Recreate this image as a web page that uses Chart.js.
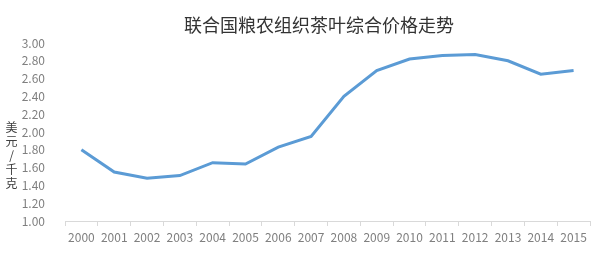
<!DOCTYPE html>
<html>
<head>
<meta charset="utf-8">
<script src="https://cdn.jsdelivr.net/npm/chart.js@4/dist/chart.umd.min.js"></script>
<style>
  html, body { margin: 0; padding: 0; background: #fff; }
  #wrap { position: relative; width: 600px; height: 253px; }
  #title {
    position: absolute; left: 119px; width: 400px; top: 13px;
    text-align: center; white-space: nowrap;
    font: 18px "Noto Sans CJK SC", sans-serif; line-height: 22px;
    color: #333;
  }
  #ytitle {
    position: absolute; left: 4px; top: 121px;
    writing-mode: vertical-rl; text-orientation: upright;
    font: 12px "Noto Sans CJK SC", sans-serif; line-height: 14px;
    color: #404040; letter-spacing: 2px;
  }
</style>
</head>
<body>
<div id="wrap">
  <canvas id="chart" width="600" height="253"></canvas>
  <div id="title"></div>
  <div id="ytitle"></div>
</div>
<script>
// years on the x axis
const years = ["2000", "2001", "2002", "2003", "2004", "2005", "2006", "2007",
  "2008", "2009", "2010", "2011", "2012", "2013", "2014", "2015"];
// FAO composite tea price, USD per kg
const prices = [1.80, 1.55, 1.48, 1.51, 1.655, 1.64, 1.83, 1.95,
  2.40, 2.69, 2.82, 2.86, 2.87, 2.80, 2.65, 2.69];
const chartTitle = "联合国粮农组织茶叶综合价格走势";
const yTitle = "美元/千克";
const yMin = 1.0, yMax = 3.0, yStep = 0.2;

const font = "'Noto Sans CJK SC', 'Noto Sans', sans-serif";

document.getElementById("title").textContent = chartTitle;
document.getElementById("ytitle").textContent = yTitle;

new Chart(document.getElementById("chart"), {
  type: "line",
  data: {
    labels: years,
    datasets: [{
      data: prices,
      borderColor: "#5b9bd5",
      borderWidth: 3,
      pointRadius: 0,
      fill: false,
      tension: 0
    }]
  },
  options: {
    responsive: false,
    animation: false,
    // top padding leaves room for the html title
    layout: { padding: { left: 0, right: 10, top: 43, bottom: 0 } },
    plugins: {
      legend: { display: false },
      tooltip: { enabled: false }
    },
    scales: {
      x: {
        offset: true,
        grid: {
          offset: true,
          drawOnChartArea: false,
          tickLength: 5,
          color: "#d9d9d9"
        },
        border: { color: "#d9d9d9" },
        ticks: {
          color: "#7f7f7f",
          font: { family: font, size: 12 },
          maxRotation: 0,
          autoSkip: false,
          padding: 4
        },
        afterFit: (s) => { s.height = 32; }
      },
      y: {
        min: yMin,
        max: yMax,
        grid: { display: false },
        border: { display: false },
        ticks: {
          stepSize: yStep,
          color: "#7f7f7f",
          font: { family: font, size: 12 },
          padding: 12,
          callback: (v) => v.toFixed(2)
        },
        afterFit: (s) => { s.width = 65; }
      }
    }
  }
});
</script>
</body>
</html>
